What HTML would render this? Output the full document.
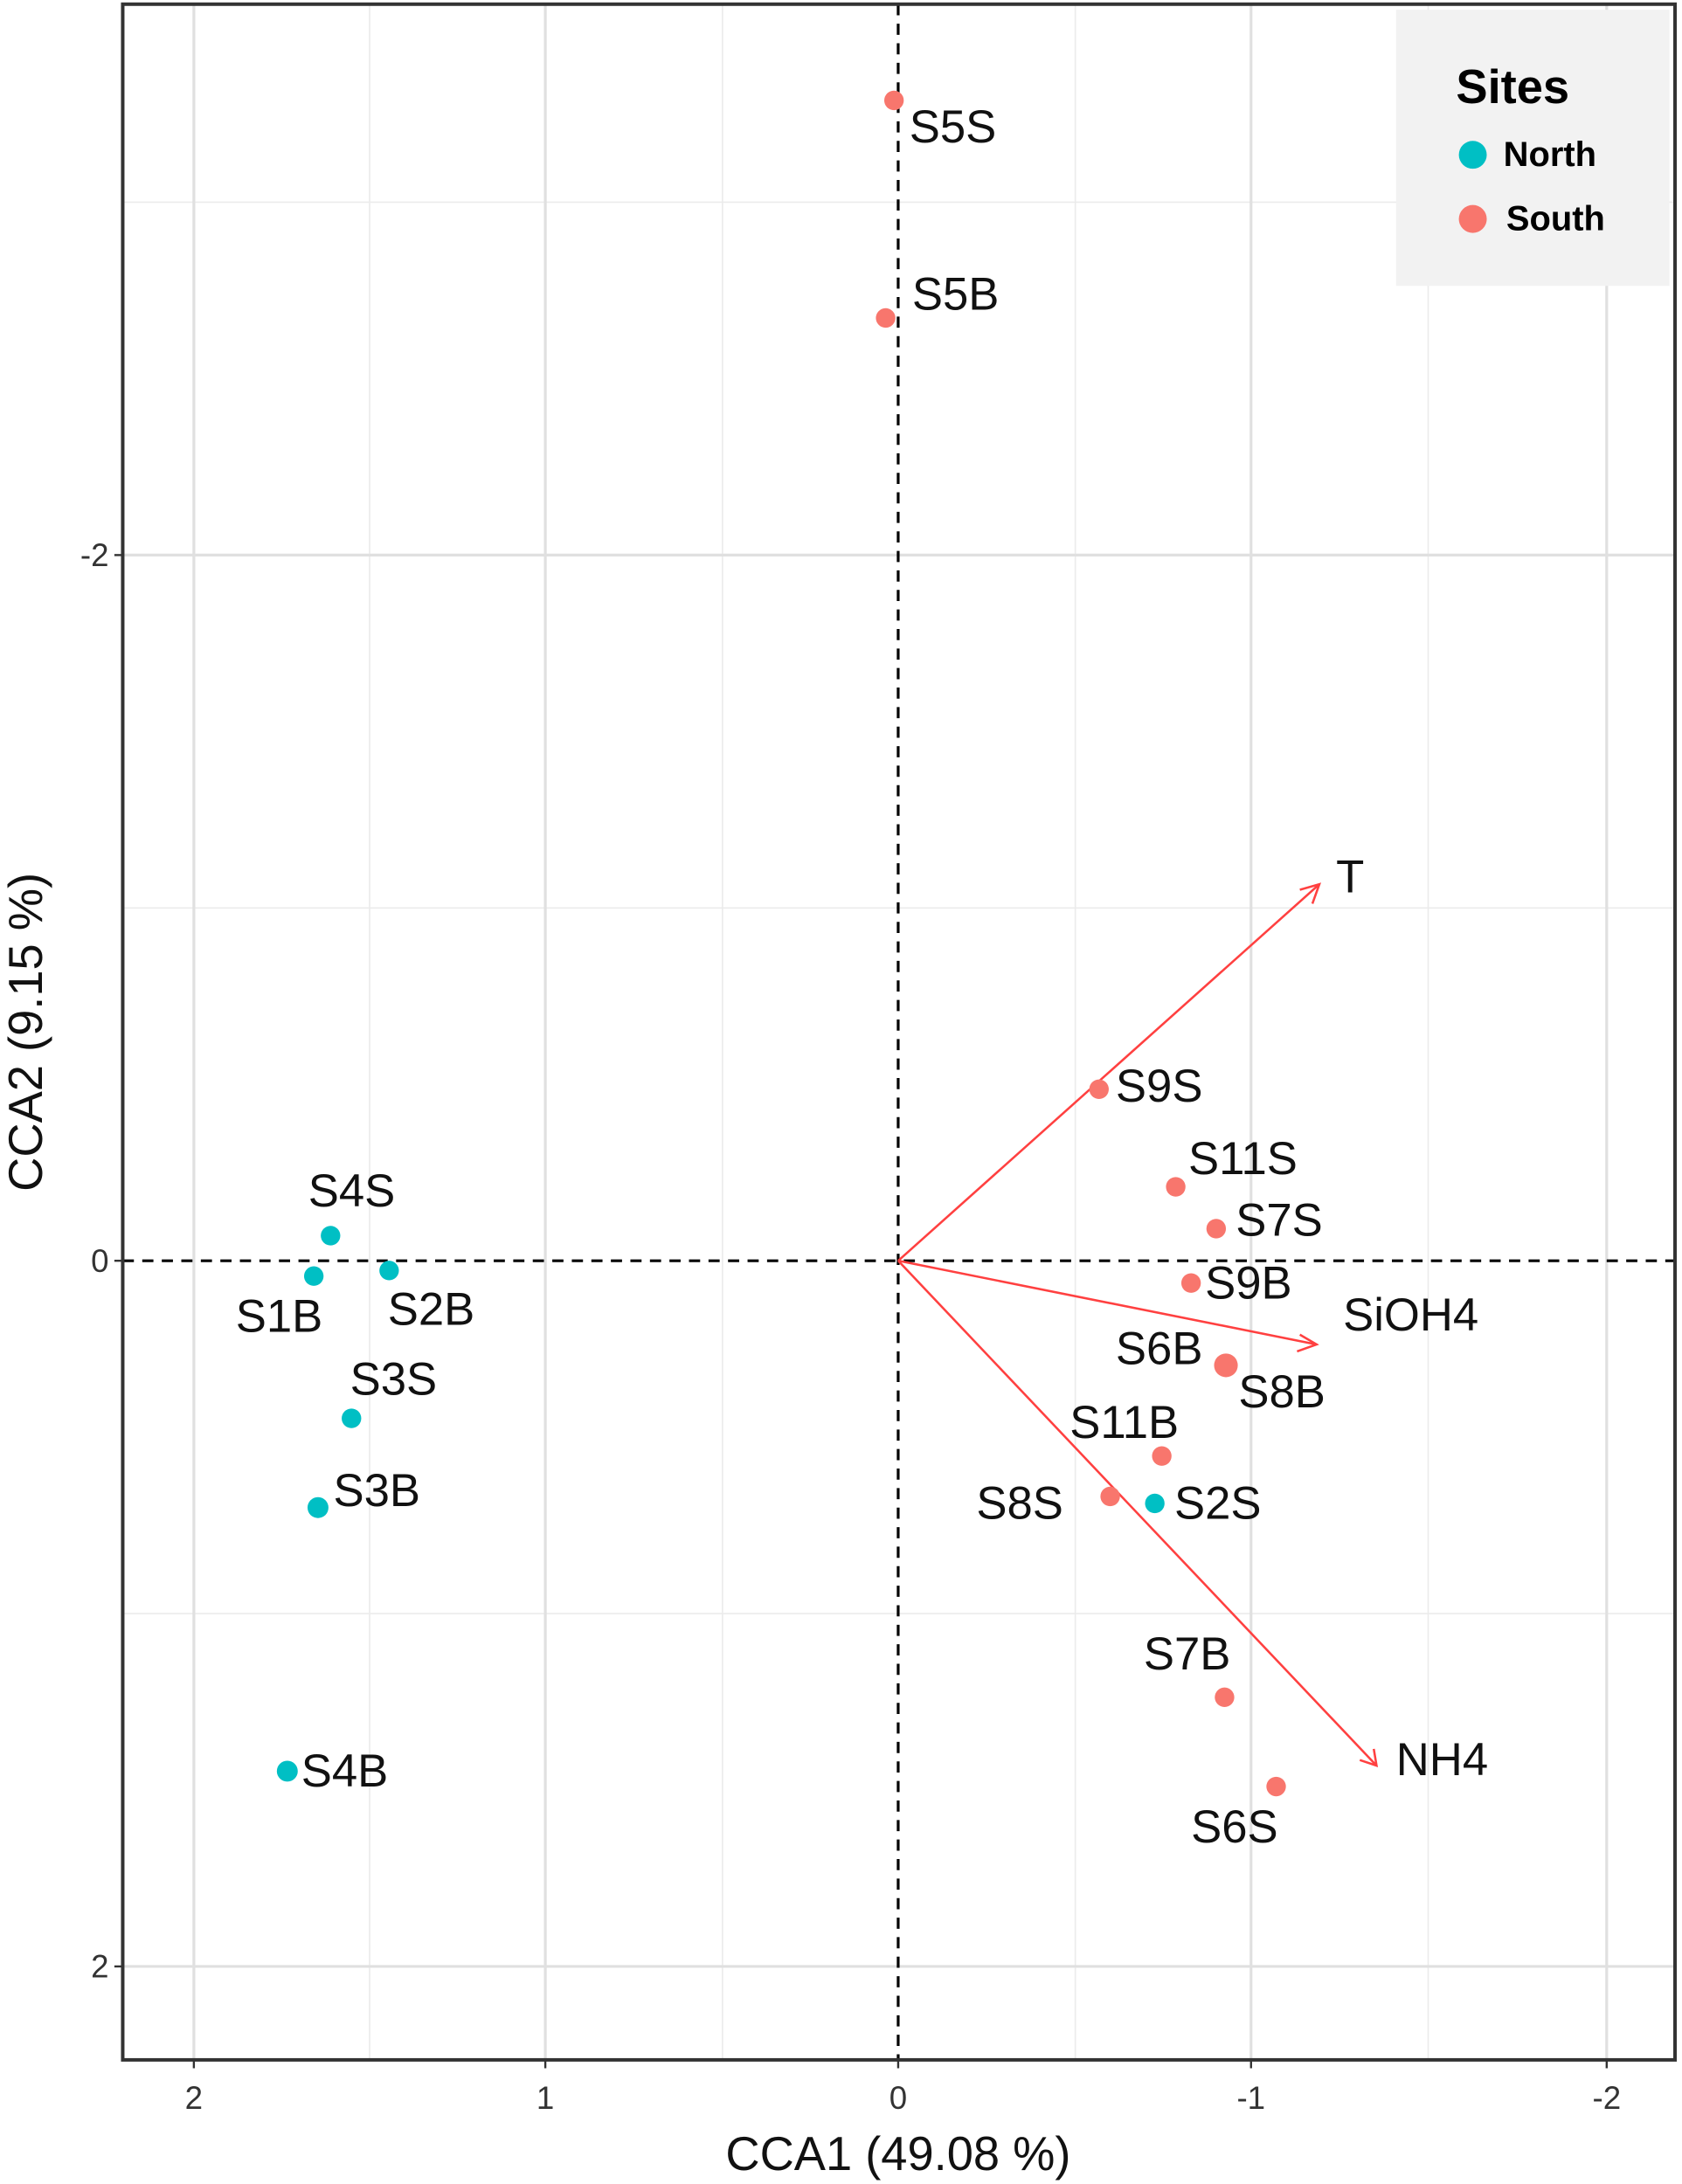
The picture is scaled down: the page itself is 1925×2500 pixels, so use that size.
<!DOCTYPE html>
<html><head><meta charset="utf-8"><style>
html,body{margin:0;padding:0;background:#fff;}
svg{display:block;}
text{font-family:"Liberation Sans",sans-serif;}
</style></head><body>
<svg width="1925" height="2500" viewBox="0 0 1206 1566" preserveAspectRatio="none" xmlns="http://www.w3.org/2000/svg">
<rect x="0" y="0" width="1206" height="1566" fill="#fff"/>
<g stroke="#ebebeb" stroke-width="1">
<line x1="265" y1="3" x2="265" y2="1477"/><line x1="518" y1="3" x2="518" y2="1477"/>
<line x1="771" y1="3" x2="771" y2="1477"/><line x1="1024" y1="3" x2="1024" y2="1477"/>
<line x1="88" y1="145" x2="1201" y2="145"/><line x1="88" y1="651" x2="1201" y2="651"/><line x1="88" y1="1157" x2="1201" y2="1157"/>
</g>
<g stroke="#e0e0e0" stroke-width="2">
<line x1="139" y1="3" x2="139" y2="1477"/><line x1="391" y1="3" x2="391" y2="1477"/>
<line x1="897" y1="3" x2="897" y2="1477"/><line x1="1152" y1="3" x2="1152" y2="1477"/>
<line x1="88" y1="398" x2="1201" y2="398"/><line x1="88" y1="1410" x2="1201" y2="1410"/>
</g>
<g stroke="#000" stroke-width="2" stroke-dasharray="8,6">
<line x1="644" y1="3" x2="644" y2="1477"/><line x1="88" y1="904" x2="1201" y2="904"/>
</g>
<!-- legend -->
<rect x="1001" y="7" width="196" height="198" fill="#f2f2f2"/>
<text x="1044" y="74" font-size="34" font-weight="bold">Sites</text>
<circle cx="1056" cy="111" r="10" fill="#00bfc4"/>
<text x="1078" y="119" font-size="25" font-weight="bold">North</text>
<circle cx="1056" cy="157" r="10" fill="#f8766d"/>
<text x="1080" y="165" font-size="25" font-weight="bold">South</text>
<!-- arrows -->
<g stroke="#ff4040" stroke-width="1.6" fill="none">
<line x1="644" y1="904" x2="946" y2="634"/><polyline points="932,638 946,634 941,648"/>
<line x1="644" y1="904" x2="944" y2="964"/><polyline points="932,957 944,964 930,969"/>
<line x1="644" y1="904" x2="987" y2="1266"/><polyline points="975,1262 987,1266 985,1254"/>
</g>
<!-- points -->
<g fill="#f8766d">
<circle cx="641" cy="72" r="7"/><circle cx="635" cy="228" r="7"/>
<circle cx="788" cy="781" r="7"/><circle cx="843" cy="851" r="7"/><circle cx="872" cy="881" r="7"/>
<circle cx="854" cy="920" r="7"/><circle cx="879" cy="979" r="8.5"/>
<circle cx="833" cy="1044" r="7"/><circle cx="796" cy="1073" r="7"/>
<circle cx="878" cy="1217" r="7"/><circle cx="915" cy="1281" r="7"/>
</g>
<g fill="#00bfc4">
<circle cx="237" cy="886" r="7"/><circle cx="225" cy="915" r="7"/><circle cx="279" cy="911" r="7"/>
<circle cx="252" cy="1017" r="7"/><circle cx="228" cy="1081" r="7.5"/><circle cx="206" cy="1270" r="7.5"/>
<circle cx="828" cy="1078" r="7"/>
</g>
<g font-size="33" fill="#111">
<text x="652" y="102">S5S</text><text x="654" y="222">S5B</text>
<text x="958" y="640">T</text>
<text x="800" y="790">S9S</text><text x="852" y="842">S11S</text><text x="886" y="886">S7S</text>
<text x="864" y="931">S9B</text><text x="963" y="954">SiOH4</text>
<text x="800" y="978">S6B</text><text x="888" y="1009">S8B</text>
<text x="767" y="1031">S11B</text><text x="700" y="1089">S8S</text><text x="842" y="1089">S2S</text>
<text x="820" y="1197">S7B</text><text x="1001" y="1273">NH4</text><text x="854" y="1321">S6S</text>
<text x="221" y="865">S4S</text><text x="169" y="955">S1B</text><text x="278" y="950">S2B</text>
<text x="251" y="1000">S3S</text><text x="239" y="1080">S3B</text><text x="216" y="1281">S4B</text>
</g>
<!-- panel border -->
<rect x="88" y="3" width="1113" height="1474" fill="none" stroke="#333" stroke-width="2.5"/>
<!-- ticks -->
<g stroke="#333" stroke-width="1.5">
<line x1="139" y1="1477" x2="139" y2="1483"/><line x1="391" y1="1477" x2="391" y2="1483"/>
<line x1="644" y1="1477" x2="644" y2="1483"/><line x1="897" y1="1477" x2="897" y2="1483"/>
<line x1="1152" y1="1477" x2="1152" y2="1483"/>
<line x1="82" y1="398" x2="88" y2="398"/><line x1="82" y1="904" x2="88" y2="904"/><line x1="82" y1="1410" x2="88" y2="1410"/>
</g>
<g font-size="23" fill="#333" text-anchor="middle">
<text x="139" y="1512">2</text><text x="391" y="1512">1</text><text x="644" y="1512">0</text>
<text x="897" y="1512">-1</text><text x="1152" y="1512">-2</text>
</g>
<g font-size="23" fill="#333" text-anchor="end">
<text x="78" y="406">-2</text><text x="78" y="912">0</text><text x="78" y="1418">2</text>
</g>
<text x="644" y="1556" font-size="34" text-anchor="middle" fill="#111">CCA1 (49.08 %)</text>
<text x="0" y="0" font-size="34" text-anchor="middle" fill="#111" transform="translate(30,740) rotate(-90)">CCA2 (9.15 %)</text>
</svg>
</body></html>
